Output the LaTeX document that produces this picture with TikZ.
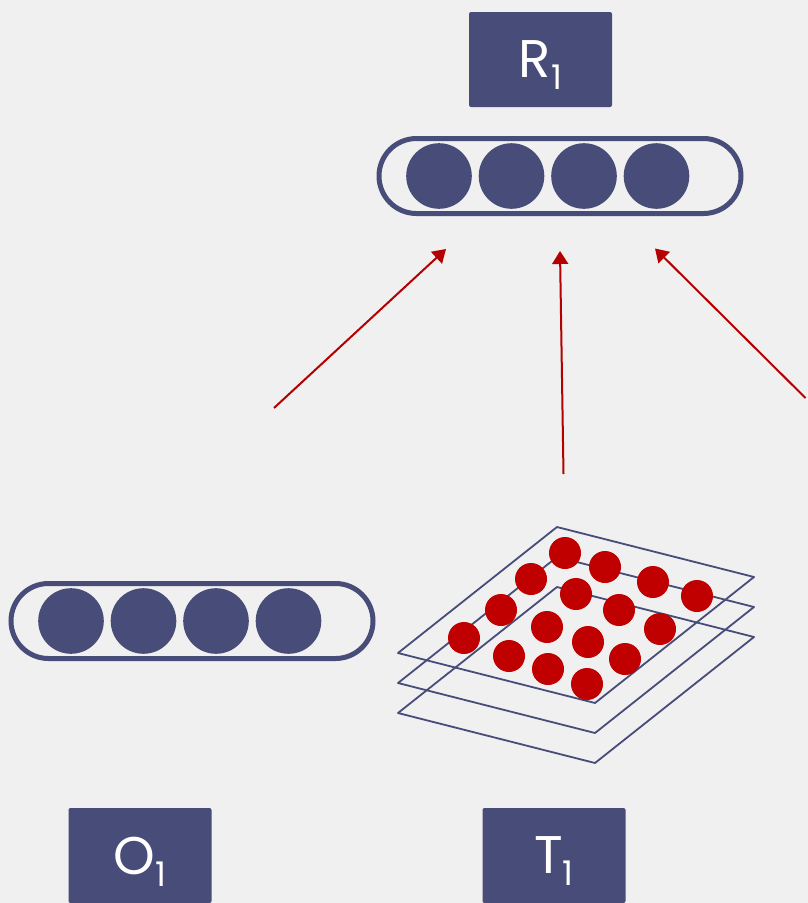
\documentclass[tikz,border=0pt]{standalone}
\usepackage{fontspec}
\setmainfont{Poppins}
\usepackage{tikz}
\usetikzlibrary{calc, arrows.meta}
\definecolor{navy}{RGB}{71, 76, 120}
\definecolor{dotred}{RGB}{192, 0, 0}
\definecolor{linkred}{RGB}{180, 0, 0}
\definecolor{paper}{RGB}{240, 240, 240}

% letter with a lowered index
\newcommand{\lbl}[2]{#1\smash{\raisebox{-12pt}{\fontsize{34}{34}\selectfont #2}}}

\tikzset{
  tag/.style={fill=navy, rounded corners=2pt, minimum width=143pt, minimum height=95pt,
    inner sep=0pt, text=white, font=\fontsize{53}{53}\selectfont},
  pill/.style={draw=navy, line width=5pt, rounded corners=37.5pt, minimum width=362pt,
    minimum height=75pt, inner sep=0pt},
  unit/.style={fill=navy},
  cell/.style={fill=dotred},
  sheet/.style={draw=navy, line width=1.8pt, line join=round},
  link/.style={draw=linkred, line width=2pt, -{Triangle[length=13pt, width=16pt]}},
}

\begin{document}
\begin{tikzpicture}[x=1pt, y=-1pt]
  \useasboundingbox (0,0) rectangle (808,903);
  \fill[paper] (0,0) rectangle (808,903);

  % labels
  \node[tag] (r1) at (540.5,59.5) {\lbl{R}{1}};
  \node[tag] (o1) at (140,855.5) {\lbl{O}{1}};
  \node[tag] (t1) at (554,855.5) {\lbl{T}{1}};

  % vectors
  \node[pill] (rvec) at (560,176) {};
  \node[pill] (ovec) at (192,621) {};
  \foreach \k in {0,...,3} {
    \fill[unit] ($(rvec.center)+(-121+72.5*\k,0)$) circle (32.8pt);
    \fill[unit] ($(ovec.center)+(-121+72.5*\k,0)$) circle (32.8pt);
  }

  % stacked sheets of the tensor
  \foreach \dy in {60,30,0}
    \draw[sheet] (557,527+\dy) -- (754,577+\dy) -- (595,703+\dy) -- (398,653+\dy) -- cycle;
  \foreach \p in {(565,553),(605,567),(653,582),(697,596),
                  (531,579),(576,594),(619,610),(660,629),
                  (501,610),(547,627),(588,642),(625,659),
                  (464,638),(509,656),(548,669),(587,684)}
    \fill[cell] \p circle (16pt);

  % links up to R
  \coordinate (a1) at (274,408);  \coordinate (h1) at (446,249);
  \coordinate (a2) at (563.5,474); \coordinate (h2) at (560,251);
  \coordinate (a3) at (805.5,398); \coordinate (h3) at (655,248.5);
  \draw[link] (a1) -- (h1);
  \draw[link] (a2) -- (h2);
  \draw[link] (a3) -- (h3);
\end{tikzpicture}
\end{document}
